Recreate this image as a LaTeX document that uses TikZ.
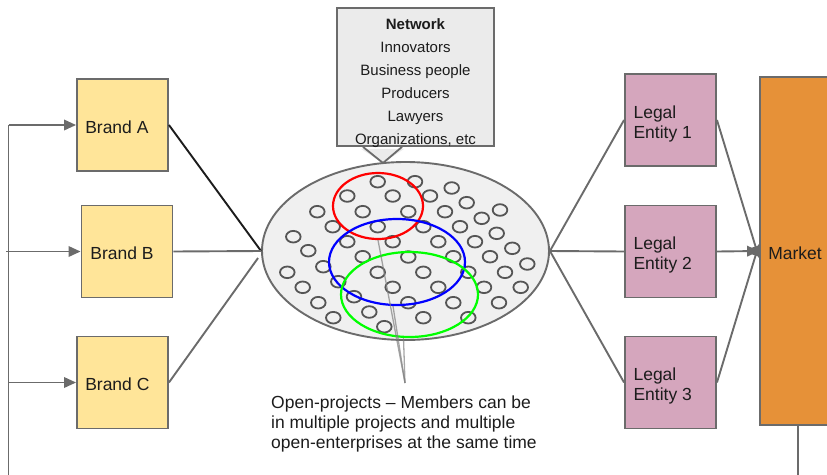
\documentclass[tikz,border=0pt]{standalone}
\usepackage{fontspec}
\setmainfont{Liberation Sans}
\usetikzlibrary{arrows.meta,shapes.geometric}

\definecolor{edge}{HTML}{6B6B6B}
\definecolor{ink}{HTML}{1C1C1C}
\definecolor{ringgray}{HTML}{555555}
\definecolor{brandfill}{HTML}{FFE599}
\definecolor{entityfill}{HTML}{D5A6BD}
\definecolor{marketfill}{HTML}{E69138}
\definecolor{netfill}{HTML}{F0F0F0}
\definecolor{notefill}{HTML}{EBEBEB}
\definecolor{projred}{HTML}{FF0000}
\definecolor{projblue}{HTML}{0000FF}
\definecolor{projgreen}{HTML}{00FF00}

\begin{document}
\begin{tikzpicture}[x=1pt,y=-1pt,
  every node/.style={text=ink},
  bigtext/.style={font=\fontsize{17.5}{20}\selectfont},
  box/.style={draw=edge, line width=1.9pt, rectangle,
    minimum width=91pt, minimum height=92pt, inner sep=0pt},
  brand/.style={box, fill=brandfill},
  entity/.style={box, fill=entityfill},
  boxtext/.style={anchor=west, align=left, inner sep=0pt, bigtext},
  conn/.style={draw=edge, line width=1.9pt},
  arr/.style={conn, -{Triangle[length=12pt,width=10.5pt]}},
  member/.style={draw=ringgray, line width=1.8pt},
  project/.style={ellipse, draw, line width=2.2pt, inner sep=0pt},
  pointer/.style={draw=gray, line width=1.3pt, opacity=0.7}
]
\useasboundingbox (0,0) rectangle (827,474);
\clip (0,0) rectangle (827,474);

% brands on the left
\node[brand] (brandA) at (122.5,125) {};
\node[brand] (brandB) at (127,251.5) {};
\node[brand] (brandC) at (122.5,382.5) {};
\node[boxtext] (brandAtext) at ([shift={(9,1.8)}]brandA.west) {Brand A};
\node[boxtext] (brandBtext) at ([shift={(9.7,1.8)}]brandB.west) {Brand B};
\node[boxtext] (brandCtext) at ([shift={(9,1.5)}]brandC.west) {Brand C};

% legal entities on the right
\node[entity] (le1) at (670.5,120) {};
\node[entity] (le2) at (670.5,251.5) {};
\node[entity] (le3) at (670.5,382.5) {};
\node[boxtext] (le1text) at ([shift={(9.3,3.6)}]le1.west) {Legal\\Entity 1};
\node[boxtext] (le2text) at ([shift={(9.3,3.2)}]le2.west) {Legal\\Entity 2};
\node[boxtext] (le3text) at ([shift={(9.3,3.4)}]le3.west) {Legal\\Entity 3};

% market column, running past the right edge
\node[draw=edge, line width=1.9pt, fill=marketfill, minimum width=110pt,
  minimum height=348pt, inner sep=0pt] (market) at (815,251) {};
\node[boxtext] (markettext) at ([shift={(9,2.3)}]market.west) {Market};

% the network pool
\node[ellipse, draw=edge, line width=1.9pt, fill=netfill, inner sep=0pt,
  minimum width=287pt, minimum height=178pt] (net) at (405.5,251) {};

% members of the network
\foreach \mx/\my in {
  377.7/181.7, 347.3/196, 392.7/196, 317.3/211.7, 362.7/211.7, 408.3/211.7,
  332.7/226.7, 377.7/226.7, 293.3/236.7, 347.3/241.7, 392.7/241.7, 308.3/250.7,
  362.7/256.7, 408.3/257, 323.3/266.7, 377.7/272.3, 287.3/272.3, 338.3/281.7,
  392.7/287.3, 302.7/287.3, 354/296.7, 408.3/302.7, 318.3/302.7, 369.3/312,
  333.3/317.7, 384.3/326.7,
  415/181.7, 451.7/188, 430/196, 466.7/202.7, 445/211.7, 500/210,
  481.7/218.3, 423.3/226.7, 460/226.7, 496.7/233.3, 438.3/241.7, 475/241.7,
  512.3/248.3, 453.3/256.7, 490/256.7, 527.3/264, 423.3/272.3, 468.3/272.3,
  505/272.3, 438.3/287.3, 484/287.3, 520.7/287.3, 453.3/302.7, 499/302.7,
  423.3/317.7, 468.3/317.7}
  \draw[member] (\mx,\my) ellipse [x radius=7.3, y radius=5.8];

% open projects
\node[project, draw=projred, minimum width=90pt, minimum height=66pt] (projR) at (378,206) {};
\node[project, draw=projblue, minimum width=136pt, minimum height=86pt] (projB) at (397,262) {};
\node[project, draw=projgreen, minimum width=137pt, minimum height=85pt] (projG) at (409.5,294.5) {};

% network callout
\node[draw=edge, line width=1.8pt, fill=notefill, minimum width=157pt,
  minimum height=138pt, inner sep=0pt] (note) at (415.5,77) {};
\coordinate (tip) at (383,163);
\fill[notefill] ([xshift=-54.6,yshift=-2]note.south) -- (tip) -- ([xshift=-11.4,yshift=-2]note.south) -- cycle;
\draw[conn, line width=1.8pt, line join=miter] ([xshift=-52.5]note.south) -- (tip) -- ([xshift=-13.5]note.south);
\node[anchor=north, align=center, inner sep=0pt, font=\fontsize{15}{23}\selectfont]
  (notetext) at (415.5,18.4) {\textbf{Network}\\Innovators\\Business people\\Producers\\Lawyers\\Organizations, etc};

% feed line on the left
\coordinate (busTop) at (8.5,125);
\coordinate (busEnd) at (8.5,480);
\coordinate (feedB) at (6,251.5);
\coordinate (feedC) at (8.5,382.5);
\draw[conn] (busTop) -- (busEnd);
\draw[arr] (busTop) -- (brandA.west);
\draw[arr] (feedB) -- (brandB.west);
\draw[arr] (feedC) -- (brandC.west);

% brands into the network
\draw[draw=ink, line width=1.9pt] (brandA.east) -- (net.west);
\draw[conn] (brandB.east) -- (net.west);
\draw[conn] (brandC.east) -- ([shift={(-3,7)}]net.west);

% network out to the legal entities
\draw[conn] (net.east) -- (le1.west);
\draw[conn] (net.east) -- (le2.west);
\draw[conn] (net.east) -- (le3.west);

% legal entities into the market
\draw[arr] (le1.east) -- ([yshift=-7]market.west);
\draw[arr] (le2.east) -- (market.west);
\draw[arr] (le3.east) -- ([yshift=7]market.west);

% market feeds back down
\coordinate (marketOut) at (798,480);
\draw[conn] (market.south -| marketOut) -- (marketOut);

% explanation of the project rings
\node[anchor=north west, align=left, inner sep=0pt, bigtext] (opnote) at (271,395.7)
  {Open-projects -- Members can be\\in multiple projects and multiple\\open-enterprises at the same time};
\coordinate (opTip) at (405,383);
\draw[pointer] (opTip) -- (projR.south);
\draw[pointer] (opTip) -- ([xshift=-4]projB.south);
\draw[pointer] (opTip) -- ([xshift=-6]projG.south);
\end{tikzpicture}
\end{document}
